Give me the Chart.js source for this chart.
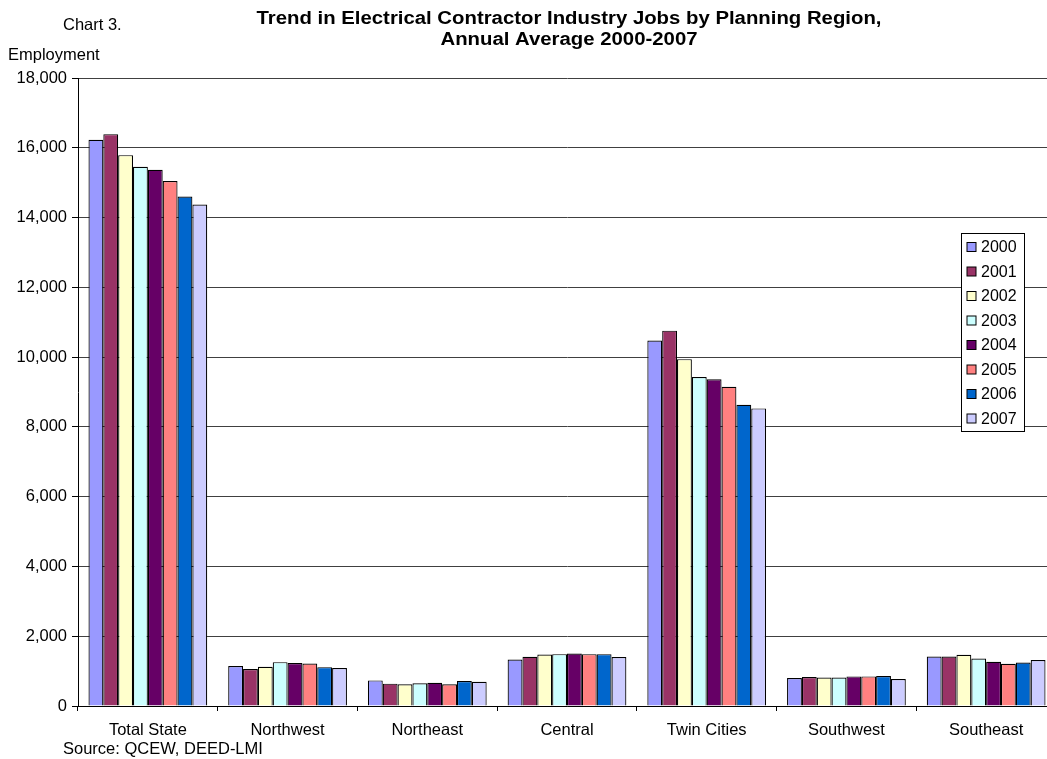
<!DOCTYPE html>
<html>
<head>
<meta charset="utf-8">
<script src="https://cdn.jsdelivr.net/npm/chart.js@4"></script>
<style>
  html, body { margin: 0; padding: 0; overflow: hidden; background: #fff; }
  #wrap { width: 1060px; height: 759px; position: relative; }
</style>
</head>
<body>
<div id="wrap"><canvas id="jobsChart"></canvas></div>
<script>
const regions = ['Total State', 'Northwest', 'Northeast', 'Central', 'Twin Cities', 'Southwest', 'Southeast'];
const years = ['2000', '2001', '2002', '2003', '2004', '2005', '2006', '2007'];
const yearColors = ['#9999FF', '#993366', '#FFFFCC', '#CCFFFF', '#660066', '#FF8080', '#0066CC', '#CCCCFF'];

// employment per region, one array per year
const jobs2000 = [16230, 1143, 734, 1334, 10478, 800, 1420];
const jobs2001 = [16390, 1057, 640, 1410, 10758, 829, 1420];
const jobs2002 = [15789, 1126, 620, 1477, 9942, 819, 1467];
const jobs2003 = [15457, 1257, 649, 1486, 9432, 819, 1362];
const jobs2004 = [15371, 1229, 667, 1505, 9366, 848, 1267];
const jobs2005 = [15046, 1219, 620, 1486, 9150, 848, 1210];
const jobs2006 = [14600, 1114, 714, 1486, 8631, 857, 1248];
const jobs2007 = [14371, 1086, 696, 1401, 8530, 771, 1315];
const jobsByYear = [jobs2000, jobs2001, jobs2002, jobs2003, jobs2004, jobs2005, jobs2006, jobs2007];

const yTicks = [0, 2000, 4000, 6000, 8000, 10000, 12000, 14000, 16000, 18000];

const FONT = 'Arial, "Liberation Sans", sans-serif';

// titles, source note and the boxed legend
const extras = {
    id: 'extras',
    afterDraw(chart) {
        const ctx = chart.ctx;
        ctx.save();
        ctx.fillStyle = '#000';
        ctx.textBaseline = 'alphabetic';

        // wide bold title
        ctx.save();
        ctx.translate(569, 0);
        ctx.scale(1.13, 1);
        ctx.font = 'bold 18px ' + FONT;
        ctx.textAlign = 'center';
        ctx.fillText('Trend in Electrical Contractor Industry Jobs by Planning Region,', 0, 23.5);
        ctx.fillText('Annual Average 2000-2007', 0, 44.5);
        ctx.restore();

        ctx.font = '16.5px ' + FONT;
        ctx.textAlign = 'left';
        ctx.fillText('Chart 3.', 63, 30);
        ctx.fillText('Employment', 8, 60);
        ctx.fillText('Source: QCEW, DEED-LMI', 63, 754);

        // legend
        const lx = 961.5, ly = 233.5, lw = 63, lh = 198;
        ctx.fillStyle = '#fff';
        ctx.fillRect(lx, ly, lw, lh);
        ctx.strokeStyle = '#000';
        ctx.lineWidth = 1;
        ctx.strokeRect(lx, ly, lw, lh);
        ctx.font = '16px ' + FONT;
        ctx.textBaseline = 'middle';
        chart.data.datasets.forEach((ds, i) => {
            const cy = 247 + i * 24.5;
            ctx.fillStyle = ds.backgroundColor;
            ctx.fillRect(967, cy - 4.5, 9, 9);
            ctx.strokeRect(967, cy - 4.5, 9, 9);
            ctx.fillStyle = '#000';
            ctx.fillText(ds.label, 981, cy + 1);
        });
        ctx.restore();
    }
};

new Chart(document.getElementById('jobsChart'), {
    type: 'bar',
    data: {
        labels: regions,
        datasets: years.map((y, i) => ({
            label: y,
            data: jobsByYear[i],
            backgroundColor: yearColors[i],
            borderColor: '#000',
            borderWidth: 1.2,
            barPercentage: 1.0,
            categoryPercentage: 0.85
        }))
    },
    options: {
        responsive: true,
        maintainAspectRatio: false,
        animation: false,
        layout: { padding: { top: 78, right: 4, left: 0, bottom: 0 } },
        plugins: {
            legend: { display: false },
            title: { display: false },
            tooltip: { enabled: false }
        },
        scales: {
            x: {
                afterFit(scale) { scale.height = 53; },
                grid: { offset: true, drawOnChartArea: false, drawTicks: true, tickLength: 5, color: '#000' },
                border: { display: true, color: '#000' },
                ticks: { color: '#000', font: { family: FONT, size: 16.5 }, padding: 10, maxRotation: 0 }
            },
            y: {
                min: 0,
                max: 18000,
                afterFit(scale) { scale.width = 78; },
                afterBuildTicks(scale) { scale.ticks = yTicks.map(v => ({ value: v })); },
                grid: { color: '#404040', tickLength: 6, tickColor: '#000' },
                border: { display: true, color: '#000' },
                ticks: {
                    color: '#000',
                    font: { family: FONT, size: 16.5 },
                    padding: 5,
                    callback: v => v.toLocaleString('en-US')
                }
            }
        }
    },
    plugins: [extras]
});
</script>
</body>
</html>
